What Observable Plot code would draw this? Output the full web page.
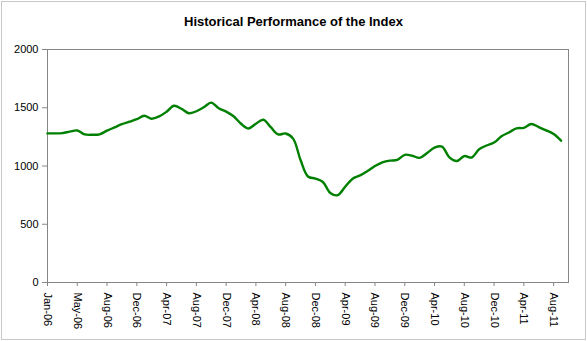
<!DOCTYPE html>
<html>
<head>
<meta charset="utf-8">
<script src="https://cdn.jsdelivr.net/npm/d3@7"></script>
<script src="https://cdn.jsdelivr.net/npm/@observablehq/plot@0.6"></script>
<style>
  html, body { margin: 0; padding: 0; background: #fff; }
  #wrap { position: relative; width: 587px; height: 341px; overflow: hidden; background: #fff; }
  #title { position: absolute; left: 0; top: 14px; width: 587px; text-align: center;
           font: bold 13px "Liberation Sans", Arial, sans-serif; color: #000; }
  #chart { position: absolute; left: 0; top: 0; }
  #border { position: absolute; left: 1px; top: 1px; width: 583px; height: 337px; border: 1px solid #c8c8c8; pointer-events: none; }
</style>
</head>
<body>
<div id="wrap">
  <div id="chart"></div>
  <div id="title">Historical Performance of the Index</div>
  <div id="border"></div>
</div>
<script>
// Index level, sampled at regular steps (4 steps between consecutive axis labels)
const values = [
  1280, 1280, 1282, 1295, 1305, 1271, 1268, 1272, 1303, 1331,
  1359, 1380, 1402, 1431, 1406, 1426, 1466, 1517, 1491, 1453,
  1470, 1504, 1544, 1496, 1467, 1427, 1363, 1322, 1363, 1397,
  1333, 1271, 1279, 1235, 1051, 910, 892, 863, 769, 750,
  822, 891, 919, 958, 1000, 1031, 1046, 1052, 1096, 1088,
  1070, 1111, 1158, 1167, 1074, 1043, 1085, 1073, 1144, 1176,
  1201, 1255, 1288, 1323, 1328, 1361, 1334, 1306, 1274, 1217
];
const tickLabels = [
  "Jan-06", "May-06", "Aug-06", "Dec-06", "Apr-07", "Aug-07", "Dec-07", "Apr-08", "Aug-08",
  "Dec-08", "Apr-09", "Aug-09", "Dec-09", "Apr-10", "Aug-10", "Dec-10", "Apr-11", "Aug-11"
];
const stepsPerLabel = 4;
const yTicks = [0, 500, 1000, 1500, 2000];

const font = '"Liberation Sans", Arial, sans-serif';
const chart = Plot.plot({
  width: 587,
  height: 341,
  marginTop: 49,
  marginBottom: 59,
  marginLeft: 47,
  marginRight: 19,
  style: { fontFamily: font, fontSize: "11px", color: "#000", background: "transparent" },
  x: { domain: [0, tickLabels.length * stepsPerLabel - 2], axis: null },
  y: { domain: [0, 2000], axis: null },
  marks: [
    Plot.frame({ stroke: "#868686", strokeWidth: 1 }),
    Plot.axisY({
      ticks: yTicks, tickFormat: d => String(d), tickSize: 5, tickPadding: 4, stroke: "#868686",
      fill: "#000", fontSize: 11, label: null
    }),
    Plot.axisX({
      ticks: tickLabels.map((_, k) => k * stepsPerLabel),
      tickFormat: d => tickLabels[d / stepsPerLabel],
      tickSize: 4, tickPadding: 6, tickRotate: 90, stroke: "#868686",
      fill: "#000", fontSize: 11, label: null
    }),
    Plot.line(values, {
      x: (d, i) => i, y: d => d,
      stroke: "#008000", strokeWidth: 2.4, curve: "catmull-rom"
    })
  ]
});
document.getElementById("chart").appendChild(chart);
</script>
</body>
</html>
